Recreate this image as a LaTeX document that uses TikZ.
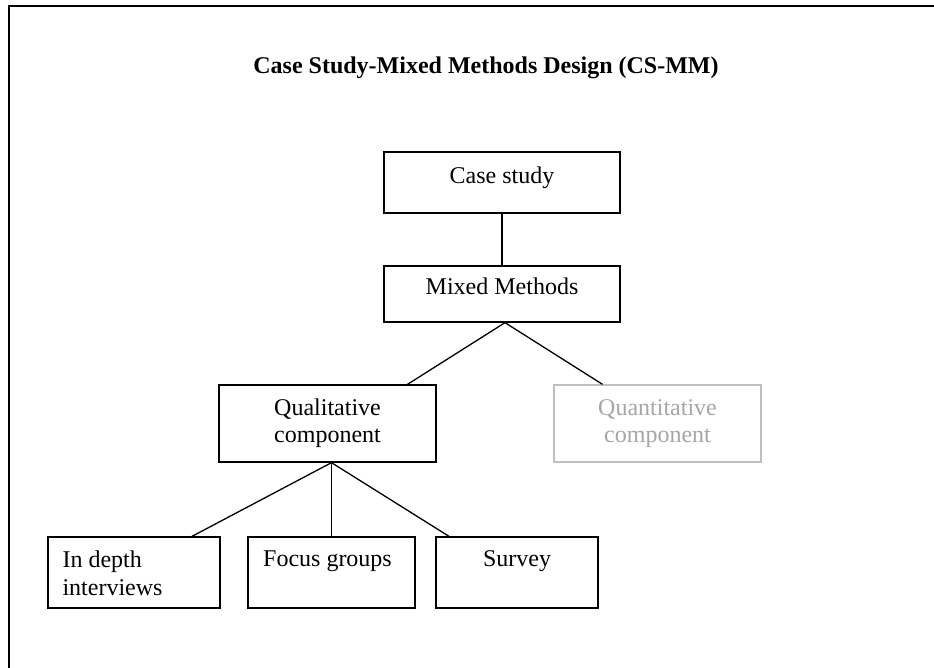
\documentclass[tikz,border=0pt]{standalone}
\usepackage{fontspec}
\setmainfont{Liberation Serif}
\usetikzlibrary{calc}

\begin{document}
\begin{tikzpicture}[x=1pt,y=-1pt,
    box/.style={draw,line width=1.3pt,inner sep=0pt,align=center,font=\fontsize{24}{27}\selectfont},
    leaf/.style={draw,line width=1.3pt,inner sep=0pt,minimum width=#1,minimum height=71pt},
    leaftext/.style={inner sep=0pt,yshift=-14pt,font=\fontsize{24}{28}\selectfont},
    link/.style={line width=1.3pt}]
  \useasboundingbox (0,0) rectangle (934,668);
  % page frame
  \draw[line width=1.6pt] (9,668) -- (9,6) -- (934,6);
  \node[font=\bfseries\fontsize{24}{27}\selectfont] (title) at (486,68) {Case Study-Mixed Methods Design (CS-MM)};

  \node[box,minimum width=236pt,minimum height=61pt,text depth=15pt] (casebox) at (502,182.5) {Case study};
  \node[box,minimum width=236pt,minimum height=56pt,text depth=15pt] (mixbox) at (502,294) {Mixed Methods};
  \node[box,minimum width=217pt,minimum height=77pt] (qualbox) at (327.5,423.5) {Qualitative\\component};
  \node[box,draw=black!25,text=black!35,minimum width=207pt,minimum height=77pt] (quantbox) at (657.5,423.5) {Quantitative\\component};

  \node[leaf=172pt,label={[leaftext,anchor=north west,align=left,xshift=15pt]north west:In depth\\interviews}] (interviews) at (134,572.5) {};
  \node[leaf=167pt,label={[leaftext,anchor=north,xshift=-4pt]north:Focus groups}] (focus) at (331.5,572.5) {};
  \node[leaf=162pt,label={[leaftext,anchor=north]north:Survey}] (survey) at (517,572.5) {};

  \draw[link] (casebox) -- (mixbox);
  \draw[link] ([xshift=3pt]mixbox.south) -- ([xshift=80pt]qualbox.north);
  \draw[link] ([xshift=3pt]mixbox.south) -- ([xshift=-55pt]quantbox.north);
  \draw[link] ([xshift=4pt]qualbox.south) -- ([xshift=58pt]interviews.north);
  \draw[link] ([xshift=4pt]qualbox.south) -- (focus.north);
  \draw[link] ([xshift=4pt]qualbox.south) -- ([xshift=-68pt]survey.north);
\end{tikzpicture}
\end{document}
